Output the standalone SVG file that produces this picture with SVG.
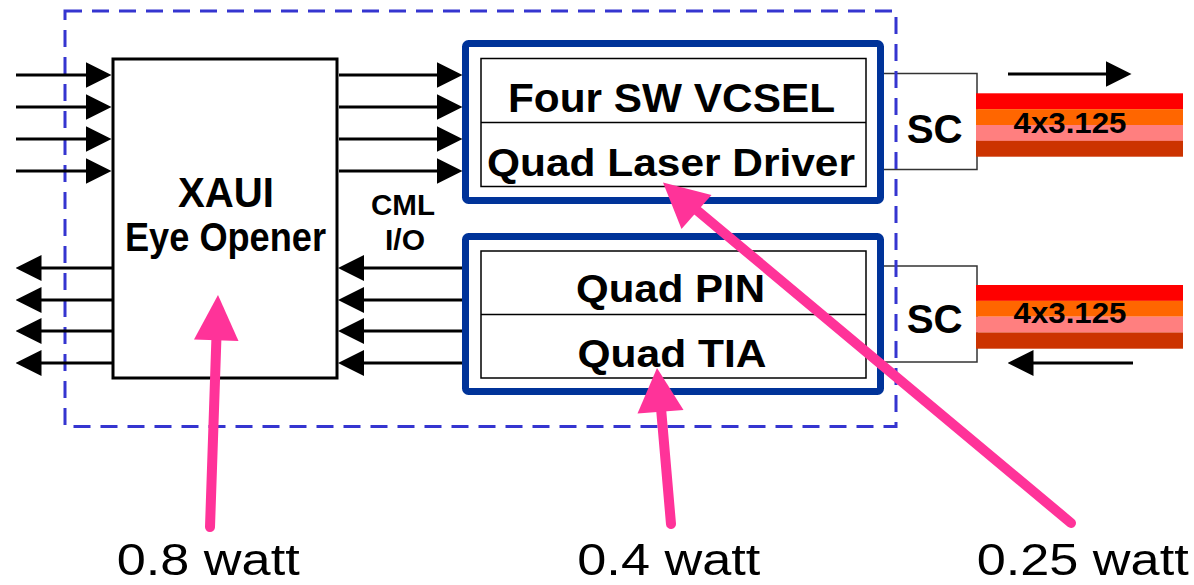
<svg xmlns="http://www.w3.org/2000/svg" width="1194" height="585" viewBox="0 0 1194 585">
<defs>
<style>
.t{font-family:"Liberation Sans",Arial,sans-serif;font-weight:bold;fill:#000;text-anchor:middle}
.w{font-family:"Liberation Sans",Arial,sans-serif;font-weight:normal;fill:#000}
.sig{stroke:#000;stroke-width:3;fill:none;marker-end:url(#ah)}
.blue{fill:#fff;stroke:#003399;stroke-width:7}
.inner{fill:none;stroke:#000;stroke-width:1.5}
.sc{fill:#fff;stroke:#333;stroke-width:1.5}
.pk{stroke:#ff3399;stroke-width:10;stroke-linecap:round;fill:none}
.pkh{fill:#ff3399}
</style>
<marker id="ah" markerUnits="userSpaceOnUse" markerWidth="26" markerHeight="26" viewBox="0 0 24 24" refX="18" refY="12" orient="auto">
<path d="M0,0 L24,12 L0,24 Z" fill="#000"/>
</marker>
</defs>
<rect width="1194" height="585" fill="#fff"/>

<g id="xaui">
<rect x="113" y="59" width="224" height="319" fill="#fff" stroke="#000" stroke-width="3"/>
<text class="t" x="226" y="207" font-size="42" textLength="96" lengthAdjust="spacingAndGlyphs">XAUI</text>
<text class="t" x="225.5" y="251" font-size="40" textLength="201" lengthAdjust="spacingAndGlyphs">Eye Opener</text>
</g>

<g id="cml-label">
<text class="t" x="403" y="215" font-size="29" textLength="64" lengthAdjust="spacingAndGlyphs">CML</text>
<text class="t" x="405" y="250" font-size="29" textLength="40" lengthAdjust="spacingAndGlyphs">I/O</text>
</g>

<g id="sc-tx">
<rect class="sc" x="878" y="73.5" width="99" height="96"/>
<text class="t" x="934.7" y="143" font-size="40" textLength="56" lengthAdjust="spacingAndGlyphs">SC</text>
</g>
<g id="sc-rx">
<rect class="sc" x="878" y="266" width="99" height="96"/>
<text class="t" x="934.7" y="333" font-size="40" textLength="56" lengthAdjust="spacingAndGlyphs">SC</text>
</g>

<g id="tx">
<rect class="blue" x="465.5" y="43.5" width="415" height="157" rx="3"/>
<rect class="inner" x="481" y="58.5" width="385" height="128"/>
<line class="inner" x1="481" y1="122.5" x2="866" y2="122.5"/>
<text class="t" x="671.5" y="112" font-size="41" textLength="327" lengthAdjust="spacingAndGlyphs">Four SW VCSEL</text>
<text class="t" x="671" y="176" font-size="38" textLength="368" lengthAdjust="spacingAndGlyphs">Quad Laser Driver</text>
</g>

<g id="rx">
<rect class="blue" x="465.5" y="236.5" width="415" height="155" rx="3"/>
<rect class="inner" x="481" y="251" width="385" height="127"/>
<line class="inner" x1="481" y1="314.5" x2="866" y2="314.5"/>
<text class="t" x="670.5" y="302" font-size="38" textLength="189" lengthAdjust="spacingAndGlyphs">Quad PIN</text>
<text class="t" x="672" y="367" font-size="38" textLength="189" lengthAdjust="spacingAndGlyphs">Quad TIA</text>
</g>

<g id="fiber-tx">
<rect x="976" y="93.3" width="207" height="15.9" fill="#ff0000"/>
<rect x="976" y="109.1" width="207" height="15.9" fill="#ff6600"/>
<rect x="976" y="125" width="207" height="15.9" fill="#ff7f7f"/>
<rect x="976" y="140.8" width="207" height="15.9" fill="#cc3300"/>
<text class="t" x="1070" y="133" font-size="29" textLength="113" lengthAdjust="spacingAndGlyphs">4x3.125</text>
</g>
<g id="fiber-rx">
<rect x="976" y="285" width="207" height="15.9" fill="#ff0000"/>
<rect x="976" y="300.8" width="207" height="15.9" fill="#ff6600"/>
<rect x="976" y="316.7" width="207" height="15.9" fill="#ff7f7f"/>
<rect x="976" y="332.5" width="207" height="16.2" fill="#cc3300"/>
<text class="t" x="1070" y="323" font-size="29" textLength="113" lengthAdjust="spacingAndGlyphs">4x3.125</text>
</g>

<g id="module-boundary">
<rect x="65" y="11" width="831" height="415.5" fill="none" stroke="#3535d0" stroke-width="3" stroke-dasharray="17 10"/>
</g>

<g id="connectors">
<path class="sig" d="M16,75 H105"/>
<path class="sig" d="M16,107 H105"/>
<path class="sig" d="M16,139 H105"/>
<path class="sig" d="M16,171 H105"/>
<path class="sig" d="M339,75 H456"/>
<path class="sig" d="M339,107 H456"/>
<path class="sig" d="M339,139 H456"/>
<path class="sig" d="M339,171 H456"/>
<path class="sig" d="M462,268 H344.5"/>
<path class="sig" d="M462,300 H344.5"/>
<path class="sig" d="M462,331 H344.5"/>
<path class="sig" d="M462,363 H344.5"/>
<path class="sig" d="M113,268 H22"/>
<path class="sig" d="M113,300 H22"/>
<path class="sig" d="M113,331 H22"/>
<path class="sig" d="M113,363 H22"/>
<path class="sig" d="M1008,74 H1125"/>
<path class="sig" d="M1133,363 H1014"/>
</g>

<g id="power-arrows">
<path class="pk" d="M210,527 L216.5,336"/>
<polygon class="pkh" points="218,295 194,339.5 238.5,341"/>
<path class="pk" d="M671,524 L661,408"/>
<polygon class="pkh" points="657,368 637.5,413.5 683.5,410"/>
<path class="pk" d="M1071,523 L693,207"/>
<polygon class="pkh" points="663,182.5 711.5,195 681.5,229"/>
</g>

<g id="power-labels">
<text class="w" x="116.7" y="575" font-size="45" textLength="183" lengthAdjust="spacingAndGlyphs">0.8 watt</text>
<text class="w" x="577.3" y="575" font-size="45" textLength="183" lengthAdjust="spacingAndGlyphs">0.4 watt</text>
<text class="w" x="976.7" y="575" font-size="45" textLength="212" lengthAdjust="spacingAndGlyphs">0.25 watt</text>
</g>
</svg>
